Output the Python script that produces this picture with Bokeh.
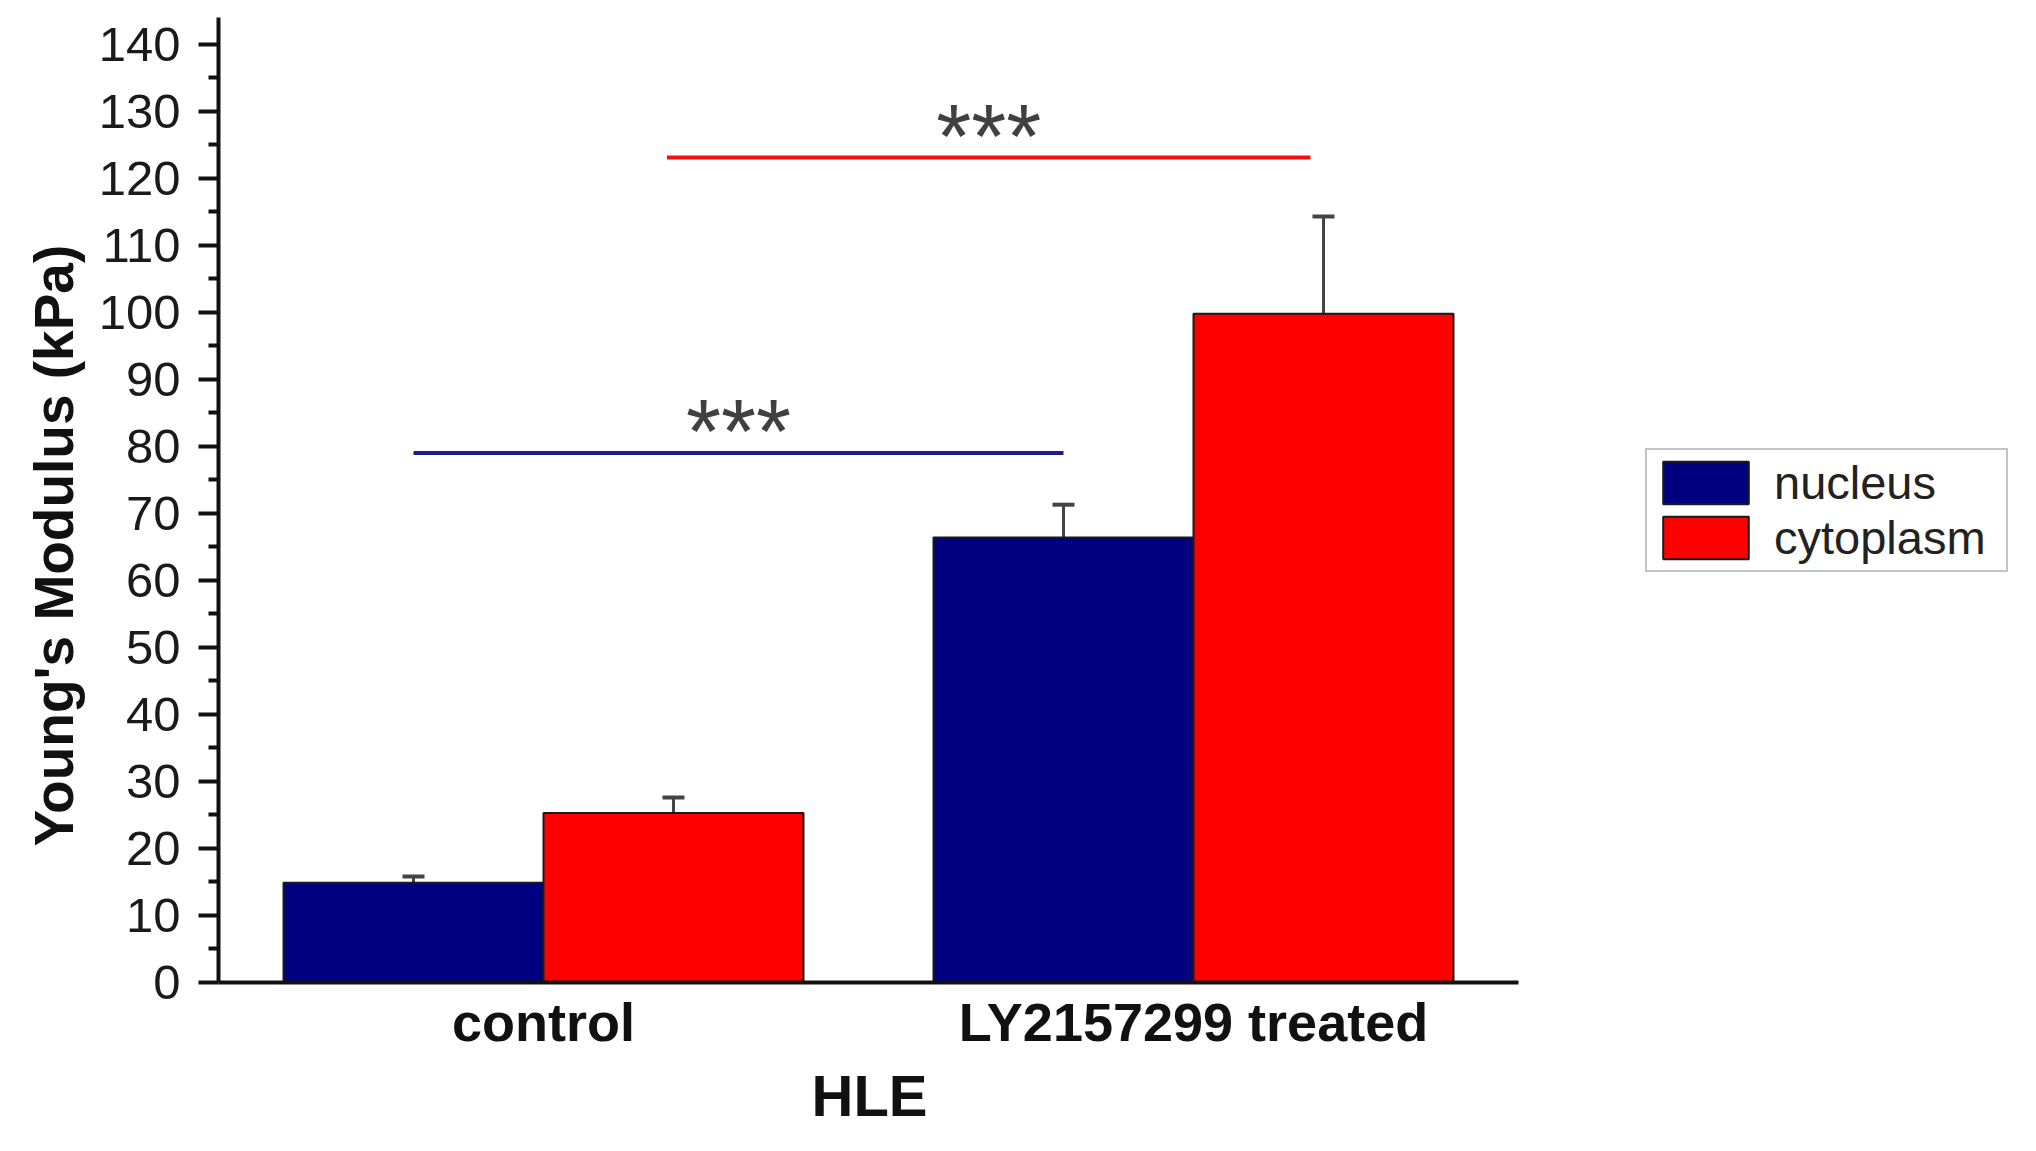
from bokeh.plotting import figure
from bokeh.models import (Range1d, FixedTicker, Whisker, TeeHead, ColumnDataSource,
                          Legend, LegendItem, Title)
from bokeh.core.properties import value
from bokeh.embed import file_html
from bokeh.resources import INLINE

# ---------------- data ----------------
categories = ["control", "LY2157299 treated"]
group_pos = [1, 2]
series = ["nucleus", "cytoplasm"]
nucleus = [14.9, 66.4]
nucleus_err = [0.9, 4.9]
cytoplasm = [25.3, 99.8]
cytoplasm_err = [2.3, 14.5]
sig_labels = ["***", "***"]
sig_y = [79.0, 123.1]
sig_start = [0.80, 1.19]
sig_end = [1.80, 2.18]
sig_series = ["nucleus", "cytoplasm"]
y_ticks = list(range(0, 141, 10))
y_minor = list(range(5, 140, 10))
x_title = "HLE"
y_title = "Young's Modulus (kPa)"

# ---------------- style / layout ----------------
FONT = "Liberation Sans"
fill = {"nucleus": "#000080", "cytoplasm": "#FF0000"}
sig_color = {"nucleus": "#1c1c8c", "cytoplasm": "#EE1111"}
offset = {"nucleus": -0.2, "cytoplasm": 0.2}
bar_w = 0.4
star_lift = 3.1

W, H = 2020, 1135
B_LEFT, B_RIGHT, B_TOP, B_BOTTOM = 218, 2, 17, 153
X_AXIS_RANGE = (0.5, 2.5)          # visible x-axis span
PX_PER_UNIT = 650                  # horizontal scale of the axis part
x_end = X_AXIS_RANGE[0] + (W - B_LEFT - B_RIGHT) / PX_PER_UNIT  # frame extends under the legend

p = figure(width=W, height=H, x_range=Range1d(X_AXIS_RANGE[0], x_end), y_range=Range1d(0, 144),
           output_backend="svg", toolbar_location=None,
           min_border_left=B_LEFT, min_border_right=B_RIGHT,
           min_border_top=B_TOP, min_border_bottom=B_BOTTOM)
p.outline_line_color = None
p.xgrid.visible = False
p.ygrid.visible = False
p.background_fill_color = "white"

vals = {"nucleus": nucleus, "cytoplasm": cytoplasm}
errs = {"nucleus": nucleus_err, "cytoplasm": cytoplasm_err}
renderers = {}
for s in series:
    xs = [g + offset[s] for g in group_pos]
    src = ColumnDataSource(dict(x=xs, top=vals[s],
                                upper=[v + e for v, e in zip(vals[s], errs[s])]))
    w = Whisker(source=src, base="x", lower="top", upper="upper", dimension="height",
                line_color="#444444", line_width=3,
                upper_head=TeeHead(size=22, line_color="#444444", line_width=4),
                lower_head=None)
    p.add_layout(w)
    r = p.vbar(x="x", top="top", width=bar_w, bottom=0, source=src,
               fill_color=fill[s], line_color="#1a1a1a", line_width=2)
    renderers[s] = r

# significance bars
for lab, yv, x0, x1, s in zip(sig_labels, sig_y, sig_start, sig_end, sig_series):
    p.segment(x0=[x0], y0=[yv], x1=[x1], y1=[yv], line_color=sig_color[s], line_width=4)
    p.text(x=[(x0 + x1) / 2], y=[yv + star_lift], text=[lab], text_font=value(FONT),
           text_font_size="90px", text_align="center", text_baseline="alphabetic",
           text_color="#404040")

# axes
ax = p.xaxis[0]
ax.bounds = X_AXIS_RANGE
ax.ticker = FixedTicker(ticks=group_pos)
ax.major_label_overrides = dict(zip(group_pos, categories))
ax.major_tick_line_color = None
ax.minor_tick_line_color = None
ax.axis_line_width = 4
ax.axis_line_color = "#111111"
ax.major_label_standoff = 3
ax.major_label_text_font = FONT
ax.major_label_text_font_size = "54px"
ax.major_label_text_font_style = "bold"
ax.major_label_text_color = "#111111"

xtitle = Title(text=x_title, align="left", offset=593, standoff=12,
               text_font=FONT, text_font_size="58px", text_font_style="bold",
               text_color="#111111")
p.add_layout(xtitle, "below")

ay = p.yaxis[0]
ay.ticker = FixedTicker(ticks=y_ticks, minor_ticks=y_minor)
ay.axis_line_width = 4
ay.axis_line_color = "#111111"
ay.major_tick_out = 20
ay.major_tick_in = 0
ay.minor_tick_out = 10
ay.minor_tick_in = 0
ay.major_tick_line_width = 4
ay.minor_tick_line_width = 4
ay.major_tick_line_color = "#111111"
ay.minor_tick_line_color = "#111111"
ay.major_label_standoff = 18
ay.major_label_text_font = FONT
ay.major_label_text_font_size = "49px"
ay.major_label_text_color = "#1a1a1a"

ytitle = Title(text=y_title, align="left", offset=136, standoff=17, vertical_align="top",
               text_font=FONT, text_font_size="55px", text_font_style="bold",
               text_color="#111111")
p.add_layout(ytitle, "left")

legend = Legend(items=[LegendItem(label=s, renderers=[renderers[s]]) for s in series],
                location=(1645 - B_LEFT, 410), orientation="vertical",
                glyph_width=107, glyph_height=53, label_height=53, label_width=227,
                spacing=0, padding=5, margin=0, label_standoff=15,
                label_text_font=FONT, label_text_font_size="47px",
                label_text_color="#222222",
                border_line_color="#888888", border_line_width=2,
                background_fill_color="white", background_fill_alpha=1.0)
p.add_layout(legend)

open("out.html", "w").write(file_html(p, INLINE))
